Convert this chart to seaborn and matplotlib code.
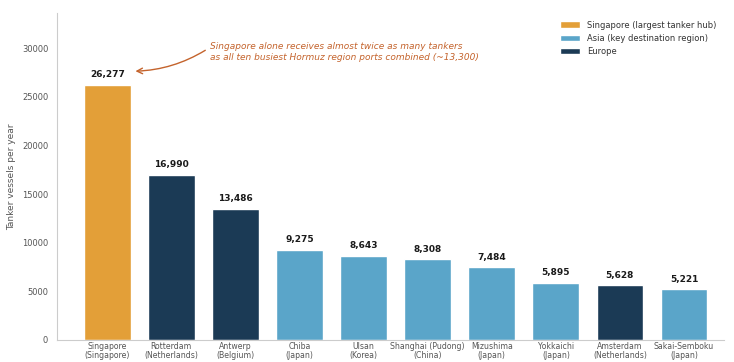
import matplotlib
matplotlib.use("Agg")
import matplotlib.pyplot as plt
import seaborn as sns
import pandas as pd

ports = ["Singapore\n(Singapore)", "Rotterdam\n(Netherlands)", "Antwerp\n(Belgium)",
         "Chiba\n(Japan)", "Ulsan\n(Korea)", "Shanghai (Pudong)\n(China)",
         "Mizushima\n(Japan)", "Yokkaichi\n(Japan)", "Amsterdam\n(Netherlands)",
         "Sakai-Semboku\n(Japan)"]
vessels = [26277, 16990, 13486, 9275, 8643, 8308, 7484, 5895, 5628, 5221]
groups = ["Singapore (largest tanker hub)", "Europe", "Europe",
          "Asia (key destination region)", "Asia (key destination region)",
          "Asia (key destination region)", "Asia (key destination region)",
          "Asia (key destination region)", "Europe",
          "Asia (key destination region)"]
group_order = ["Singapore (largest tanker hub)", "Asia (key destination region)", "Europe"]
group_colors = ["#E39F38", "#5AA5C9", "#1B3A55"]

df = pd.DataFrame({"port": ports, "vessels": vessels, "group": groups})

sns.set_style("white")
plt.rcParams["font.family"] = ["DejaVu Sans"]

fig = plt.figure(figsize=(7.34, 3.62), dpi=100)
ax = fig.add_axes([0.078, 0.061, 0.908, 0.903])

sns.barplot(data=df, x="port", y="vessels", hue="group", hue_order=group_order,
            palette=group_colors, dodge=False, width=0.73, ax=ax,
            order=ports, saturation=1)

for i, v in enumerate(vessels):
    ax.annotate(f"{v:,}", (i, v), xytext=(0, 4), textcoords="offset points",
                ha="center", va="bottom", fontsize=6.5, fontweight="bold",
                color="#1a1a1a")

ax.set_ylim(0, max(vessels) * 1.28)
ax.set_xlim(-0.78, 9.62)
ax.set_xlabel("")
ax.set_ylabel("Tanker vessels per year", fontsize=6.5, color="#555555")
ax.tick_params(axis="y", labelsize=6, colors="#555555", length=3, width=0.6)
ax.tick_params(axis="x", labelsize=5.6, colors="#555555", length=0, pad=1.5)
for lab in ax.get_xticklabels():
    lab.set_linespacing(0.95)

sns.despine(ax=ax)
for side in ("left", "bottom"):
    ax.spines[side].set_color("#cccccc")
    ax.spines[side].set_linewidth(0.8)

note_color = "#C4632C"
ax.text(1.6, 29600,
        "Singapore alone receives almost twice as many tankers\n"
        "as all ten busiest Hormuz region ports combined (~13,300)",
        fontsize=6.5, fontstyle="italic", color=note_color,
        ha="left", va="center", linespacing=1.3)
ax.annotate("", xy=(0.44, 27650), xytext=(1.53, 29800),
            arrowprops=dict(arrowstyle="->", color=note_color, lw=1.0,
                            connectionstyle="arc3,rad=-0.13",
                            shrinkA=0, shrinkB=0))

leg = ax.legend(loc="upper right", frameon=False, fontsize=6,
                handlelength=2.4, handleheight=0.8, labelcolor="#333333",
                bbox_to_anchor=(1.0, 1.0))

fig.savefig("out.png", dpi=100)
